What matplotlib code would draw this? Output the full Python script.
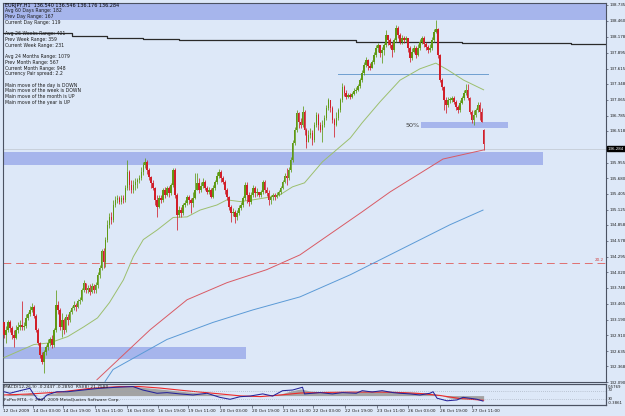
import matplotlib
matplotlib.use("Agg")
import matplotlib.pyplot as plt
import matplotlib.transforms as mtransforms
import numpy as np

W, H = 625, 416
plt.rcParams['font.family'] = ["Liberation Sans Narrow", "DejaVu Sans"]

# ---------------- data ----------------
symbol = "EURJPY,H1"
last_ohlc = [136.540, 136.546, 136.176, 136.284]   # current bar O H L C
first_open = 133.15

closes = [
    132.92, 133.01, 133.15, 133.05, 132.92, 132.87, 133.01, 133.06, 133.10, 133.06,
    133.08, 133.22, 133.29, 133.36, 133.42, 133.26, 133.01, 132.78, 132.57, 132.45,
    132.62, 132.71, 132.78, 132.84, 132.75, 133.01, 133.45, 133.36, 133.06, 133.19,
    133.01, 133.24, 133.19, 133.33, 133.40, 133.45, 133.42, 133.51, 133.54, 133.72,
    133.84, 133.72, 133.75, 133.68, 133.79, 133.72, 133.80, 133.98, 134.10, 134.40,
    134.21, 134.60, 134.86, 134.99, 134.95, 135.21, 135.30, 135.34, 135.27, 135.34,
    135.30, 135.51, 135.79, 135.57, 135.48, 135.57, 135.62, 135.65, 135.69, 135.79,
    135.92, 135.97, 135.83, 135.71, 135.60, 135.51, 135.30, 135.18, 135.34, 135.30,
    135.48, 135.39, 135.51, 135.42, 135.57, 135.83, 135.39, 135.04, 135.12, 135.07,
    135.21, 135.25, 135.35, 135.30, 135.25, 135.34, 135.48, 135.60, 135.48, 135.55,
    135.62, 135.51, 135.44, 135.48, 135.35, 135.51, 135.62, 135.72, 135.79, 135.69,
    135.62, 135.48, 135.35, 135.18, 135.07, 135.09, 134.99, 135.07, 135.16, 135.21,
    135.34, 135.57, 135.39, 135.27, 135.39, 135.51, 135.42, 135.44, 135.39, 135.44,
    135.62, 135.48, 135.42, 135.30, 135.35, 135.39, 135.35, 135.39, 135.44, 135.51,
    135.62, 135.72, 135.69, 135.83, 136.01, 136.30, 136.53, 136.83, 136.67, 136.62,
    136.85, 136.53, 136.32, 136.45, 136.48, 136.36, 136.62, 136.80, 136.62, 136.53,
    136.62, 136.74, 136.92, 137.06, 136.92, 136.71, 136.62, 136.74, 136.89, 137.06,
    137.29, 137.19, 137.12, 137.15, 137.12, 137.17, 137.22, 137.24, 137.31, 137.41,
    137.54, 137.68, 137.77, 137.66, 137.63, 137.73, 137.85, 137.98, 138.03, 137.89,
    137.94, 138.03, 138.21, 138.12, 138.03, 137.94, 138.12, 138.33, 138.21, 138.08,
    138.15, 138.12, 138.15, 137.98, 137.80, 137.91, 137.98, 137.85, 137.98, 138.08,
    138.15, 138.05, 138.00, 137.94, 137.98, 138.12, 138.26, 138.31, 137.85, 137.41,
    137.29, 137.06, 136.97, 137.06, 137.06, 137.10, 137.03, 136.94, 136.89, 137.01,
    137.10, 137.19, 137.24, 137.10, 136.85, 136.71, 136.80, 136.89, 136.97, 136.85, 136.67,
]
highs = [
    133.15, 133.08, 133.19, 133.19, 133.08, 133.01, 133.10, 133.14, 133.19, 133.51,
    133.15, 133.28, 133.33, 133.43, 133.49, 133.45, 133.28, 133.05, 132.80, 132.62,
    132.66, 132.75, 132.84, 132.89, 132.91, 133.05, 133.72, 133.51, 133.40, 133.31,
    133.22, 133.28, 133.29, 133.36, 133.43, 133.51, 133.49, 133.56, 133.59, 133.75,
    133.89, 133.84, 133.80, 133.82, 133.84, 133.82, 133.86, 134.03, 134.16, 134.44,
    134.46, 134.65, 134.95, 135.07, 135.09, 135.30, 135.37, 135.39, 135.37, 135.39,
    135.39, 135.57, 136.01, 135.83, 135.65, 135.65, 135.69, 135.69, 135.74, 135.88,
    135.97, 136.04, 136.01, 135.86, 135.72, 135.65, 135.53, 135.39, 135.39, 135.39,
    135.51, 135.53, 135.55, 135.55, 135.60, 135.86, 135.86, 135.42, 135.20, 135.18,
    135.25, 135.30, 135.39, 135.39, 135.34, 135.44, 135.77, 135.77, 135.69, 135.62,
    135.69, 135.65, 135.55, 135.53, 135.51, 135.57, 135.65, 135.79, 135.85, 135.83,
    135.72, 135.65, 135.51, 135.37, 135.21, 135.16, 135.12, 135.12, 135.21, 135.27,
    135.37, 135.62, 135.62, 135.44, 135.44, 135.57, 135.55, 135.51, 135.44, 135.48,
    135.65, 135.65, 135.53, 135.48, 135.39, 135.42, 135.42, 135.44, 135.48, 135.55,
    135.65, 135.78, 135.86, 135.88, 136.06, 136.36, 136.59, 136.89, 136.85, 136.74,
    136.96, 136.89, 136.57, 136.53, 136.57, 136.53, 136.67, 136.85, 136.83, 136.67,
    136.71, 136.80, 136.97, 137.10, 137.06, 136.96, 136.74, 136.85, 136.92, 137.10,
    137.36, 137.33, 137.24, 137.19, 137.19, 137.20, 137.27, 137.29, 137.34, 137.45,
    137.59, 137.73, 137.82, 137.78, 137.71, 137.77, 137.91, 138.03, 138.07, 138.03,
    138.00, 138.07, 138.29, 138.21, 138.15, 138.08, 138.15, 138.38, 138.37, 138.24,
    138.21, 138.19, 138.19, 138.15, 138.01, 137.98, 138.03, 138.01, 138.05, 138.14,
    138.19, 138.19, 138.08, 138.03, 138.05, 138.17, 138.31, 138.47, 138.33, 137.87,
    137.45, 137.31, 137.12, 137.12, 137.12, 137.13, 137.13, 137.06, 136.97, 137.06,
    137.13, 137.24, 137.34, 137.34, 137.12, 136.89, 136.89, 136.92, 137.03, 137.03, 136.92,
]
lows = [
    132.87, 132.78, 132.98, 132.98, 132.84, 132.71, 132.84, 132.96, 133.01, 133.01,
    133.01, 133.05, 133.19, 133.26, 133.33, 133.22, 132.98, 132.75, 132.52, 132.40,
    132.25, 132.57, 132.66, 132.73, 132.69, 132.71, 132.98, 133.29, 133.01, 132.89,
    132.94, 132.98, 133.10, 133.15, 133.29, 133.36, 133.35, 133.40, 133.47, 133.51,
    133.68, 133.66, 133.66, 133.63, 133.65, 133.65, 133.66, 133.75, 133.93, 134.07,
    134.10, 134.12, 134.56, 134.81, 134.88, 134.91, 135.18, 135.25, 135.23, 135.23,
    135.25, 135.27, 135.48, 135.48, 135.42, 135.42, 135.48, 135.51, 135.60, 135.65,
    135.74, 135.86, 135.76, 135.65, 135.51, 135.48, 135.21, 134.99, 135.16, 135.25,
    135.27, 135.34, 135.37, 135.35, 135.39, 135.53, 135.34, 134.77, 135.00, 135.00,
    135.04, 135.18, 135.21, 135.23, 135.07, 135.18, 135.32, 135.48, 135.42, 135.44,
    135.51, 135.48, 135.41, 135.41, 135.34, 135.34, 135.48, 135.58, 135.69, 135.62,
    135.58, 135.41, 135.30, 135.12, 134.91, 135.02, 134.90, 134.95, 135.04, 135.12,
    135.18, 135.30, 135.25, 135.20, 135.23, 135.35, 135.35, 135.37, 135.35, 135.35,
    135.41, 135.42, 135.37, 135.21, 135.23, 135.30, 135.30, 135.34, 135.37, 135.41,
    135.49, 135.60, 135.57, 135.65, 135.79, 135.97, 136.27, 136.50, 136.57, 136.57,
    136.59, 136.45, 136.22, 136.32, 136.39, 136.27, 136.32, 136.59, 136.53, 136.50,
    136.32, 136.59, 136.71, 136.89, 136.85, 136.66, 136.41, 136.60, 136.71, 136.85,
    137.03, 137.13, 137.08, 137.10, 137.08, 137.10, 137.15, 137.19, 137.22, 137.27,
    137.38, 137.50, 137.64, 137.59, 137.59, 137.63, 137.70, 137.82, 137.91, 137.82,
    137.71, 137.85, 138.00, 138.03, 137.98, 137.82, 137.91, 138.08, 138.15, 138.05,
    138.05, 138.07, 138.08, 137.91, 137.73, 137.77, 137.89, 137.80, 137.84, 137.94,
    138.05, 138.00, 137.94, 137.89, 137.91, 137.94, 138.08, 138.24, 137.80, 137.38,
    137.24, 136.89, 136.83, 136.94, 137.01, 137.03, 136.99, 136.89, 136.83, 136.85,
    136.99, 137.06, 137.15, 137.06, 136.82, 136.66, 136.62, 136.76, 136.85, 136.71, 136.67,
]

# moving averages (bar index, price)
ma_green_idx = [0, 15, 23, 32, 40, 47, 53, 60, 65, 70, 77, 85, 92, 98.5, 107, 112, 118.6, 125,
                132, 138.7, 145, 151, 160, 166, 174, 180, 189, 199, 209, 217, 223, 231, 241]
ma_green_val = [132.52, 132.75, 132.78, 132.89, 133.06, 133.22, 133.49, 133.89, 134.30, 134.60,
                134.77, 134.99, 135.00, 135.12, 135.21, 135.30, 135.27, 135.30, 135.34, 135.39,
                135.53, 135.60, 135.97, 136.15, 136.39, 136.66, 137.03, 137.41, 137.61, 137.71,
                137.59, 137.41, 137.24]
ma_red_idx = [46.7, 73.4, 92, 112, 132, 148.7, 180, 194, 220.6, 241]
ma_red_val = [132.13, 133.01, 133.54, 133.84, 134.07, 134.33, 135.09, 135.44, 136.02, 136.18]
ma_blue_idx = [50.8, 54.8, 81.9, 105, 125, 148.7, 174, 199, 224, 240.7]
ma_blue_val = [132.10, 132.31, 132.84, 133.14, 133.36, 133.59, 133.98, 134.42, 134.86, 135.12]
ma_black_idx = [-2, 34, 52, 70, 88, 160, 177, 230, 249, 285, 304]
ma_black_val = [138.25, 138.19, 138.16, 138.13, 138.12, 138.11, 138.09, 138.07, 138.06, 138.05, 138.05]

# drawn objects: zones (start bar, end bar, low, high)
zones = [(-1, 310, 138.47, 138.80), (-1, 270.9, 135.92, 136.15),
         (-1, 121.6, 132.50, 132.71), (209.5, 253.3, 136.57, 136.67)]
fifty_label = (202, 136.61, "50%")
level_blue = (168, 243, 137.52)
level_red = 134.19
level_red_label = "20.2"
bid_line = 136.20

price_ticks = [138.735, 138.460, 138.178, 137.895, 137.615, 137.348, 137.065, 136.785,
               136.518, 135.955, 135.680, 135.405, 135.125, 134.858, 134.578, 134.295,
               134.020, 133.748, 133.465, 133.190, 132.910, 132.635, 132.368, 132.090]

time_tick_idx = [-0.4, 14.6, 29.6, 45.7, 61.8, 77.4, 92.5, 108.5, 124.6, 140.2, 155.3,
                 171.4, 187.4, 203.0, 219.0, 235.2]
time_tick_lbl = ["12 Oct 2009", "14 Oct 03:00", "14 Oct 19:00", "15 Oct 11:00", "16 Oct 03:00",
                 "16 Oct 19:00", "19 Oct 11:00", "20 Oct 03:00", "20 Oct 19:00", "21 Oct 11:00",
                 "22 Oct 03:00", "22 Oct 19:00", "23 Oct 11:00", "26 Oct 03:00", "26 Oct 19:00",
                 "27 Oct 11:00"]

info_lines = ["Avg 60 Days Range: 182", "Prev Day Range: 167", "Current Day Range: 119", "",
              "Avg 26 Weeks Range: 401", "Prev Week Range: 359", "Current Week Range: 231", "",
              "Avg 24 Months Range: 1079", "Prev Month Range: 567", "Current Month Range: 948",
              "Currency Pair spread: 2.2", "",
              "Main move of the day is DOWN", "Main move of the week is DOWN",
              "Main move of the month is UP", "Main move of the year is UP"]

# MACD / RSI sub window
macd_idx = [0, 3, 8, 13, 18, 23, 28, 38, 48, 58, 63, 68, 78, 88, 98, 109, 119, 129, 139, 144,
            149, 154, 164, 174, 184, 194, 204, 214, 219, 224, 229, 234, 241]
macd_val = [-0.02, 0.10, 0.04, 0.16, -0.02, 0.10, 0.22, 0.41, 0.53, 0.59, 0.59, 0.53, 0.41,
            0.28, 0.16, 0.04, -0.02, -0.02, 0.10, 0.28, 0.41, 0.28, 0.22, 0.22, 0.28, 0.28,
            0.22, 0.16, 0.04, -0.15, -0.21, -0.21, -0.2447]
signal_idx = [0, 13, 28, 43, 58, 68, 78, 93, 109, 119, 129, 139, 149, 159, 174, 189, 199,
              209, 219, 229, 241]
signal_val = [0.04, 0.10, 0.22, 0.44, 0.56, 0.56, 0.47, 0.28, 0.10, -0.02, -0.06, 0.04, 0.16,
              0.19, 0.22, 0.22, 0.19, 0.13, 0.01, -0.18, -0.2850]
rsi_idx = [0, 3, 8, 13, 14.6, 17, 19, 21.6, 26.6, 31.7, 39.7, 48, 56.8, 64.8, 69.8, 76.9, 81.9,
           88.4, 95, 102, 108.5, 113.6, 118.6, 123.6, 130, 135, 140, 145, 150, 151, 158.8, 165,
           170, 177, 180, 185, 190, 195.5, 199, 204, 209, 214, 215.6, 217.6, 222.6, 227.6,
           230.7, 234, 237.7, 240.7]
rsi_val = [65, 58, 70, 81, 58, 30, 27, 50, 65, 65, 73, 81, 86, 89, 73, 58, 61, 55, 50, 58, 39,
           30, 42, 45, 55, 45, 70, 73, 86, 55, 61, 55, 61, 58, 70, 64, 70, 61, 58, 55, 50, 58,
           65, 35, 23, 27, 39, 35, 30, 21.758]

# ---------------- styling ----------------
BG = "#dde8f8"
BAND = "#a6b5ec"
BULL = "#5f9a16"
BEAR = "#d11f2a"
FRAME = "#4b5262"
TXT = "#1c1c1c"

fig = plt.figure(figsize=(W / 100, H / 100), dpi=100, facecolor=BG)


def fy(py):
    return 1 - py / H


xlim = (-0.5, 302.5)
ax = fig.add_axes([3 / W, fy(382), 603 / W, 379 / H], facecolor=BG)
ax.set_xlim(*xlim)
ax.set_ylim(132.096, 138.770)

# zones
for x0, x1, lo, hi in zones:
    ax.fill_between([x0, x1], lo, hi, color=BAND, lw=0, zorder=1)
ax.text(fifty_label[0], fifty_label[1], fifty_label[2], fontsize=4.6, color="#3c3c3c",
        va="center", ha="left", zorder=6)

# level lines
ax.axhline(bid_line, color="#c4ccd6", lw=0.6, zorder=2)
ax.axhline(level_red, color="#e07070", lw=0.7, ls=(0, (8, 5)), zorder=2)
ax.text(297, level_red + 0.01, level_red_label, color="#d04040", fontsize=3, va="bottom",
        ha="left", zorder=6)
ax.plot([level_blue[0], level_blue[1]], [level_blue[2]] * 2, color="#6f9fd0", lw=0.7, zorder=3)

# moving averages
ax.plot(ma_black_idx, ma_black_val, color="#2a2a2a", lw=0.9, drawstyle="steps-post", zorder=3)
ax.plot(ma_blue_idx, ma_blue_val, color="#5b9ad6", lw=0.7, zorder=3)
ax.plot(ma_red_idx, ma_red_val, color="#d95a64", lw=0.7, zorder=3)
ax.plot(ma_green_idx, ma_green_val, color="#9cbf6e", lw=0.7, zorder=3)

# candles
O = np.array([first_open] + closes[:-1] + [last_ohlc[0]])
C = np.array(closes + [last_ohlc[3]])
Hh = np.maximum(np.array(highs + [last_ohlc[1]]), np.maximum(O, C))
L = np.minimum(np.array(lows + [last_ohlc[2]]), np.minimum(O, C))
idx = np.arange(len(C))
up = C >= O
bot = np.minimum(O, C)
hgt = np.maximum(np.abs(C - O), 0.012)
for mask, col in ((up, BULL), (~up, BEAR)):
    ax.vlines(idx[mask], L[mask], Hh[mask], color=col, lw=0.55, zorder=4)
    ax.bar(idx[mask], hgt[mask], bottom=bot[mask], width=0.8, color=col, lw=0, zorder=5)

# axes styling
for s in ax.spines.values():
    s.set_color(FRAME)
    s.set_linewidth(0.8)
ax.yaxis.tick_right()
ax.set_yticks(price_ticks)
ax.set_yticklabels([f"{p:.3f}" for p in price_ticks])
ax.tick_params(axis="y", length=1.5, width=0.5, colors=FRAME, labelsize=2.9, pad=1,
               labelcolor=TXT)
ax.set_xticks([])

# current price box
trans = mtransforms.blended_transform_factory(ax.transAxes, ax.transData)
ax.text(1.003, bid_line, f"{last_ohlc[3]:.3f}", transform=trans, fontsize=2.9, color="white",
        va="center", ha="left", zorder=10,
        bbox=dict(boxstyle="square,pad=0.12", fc="black", ec="black"))

# info text
header = f"{symbol}  " + " ".join(f"{v:.3f}" for v in last_ohlc)
fig.text(5 / W, fy(5), header, fontsize=3.5, color="black", va="center", ha="left")
for k, line in enumerate(info_lines):
    if line:
        fig.text(5 / W, fy(5 + 5.73 * (k + 1)), line, fontsize=3.3, color=TXT, va="center",
                 ha="left")

# ---------------- MACD / RSI panel ----------------
axm = fig.add_axes([3 / W, fy(405), 603 / W, 21 / H], facecolor=BG)
axm.set_xlim(*xlim)
axm.set_ylim(-0.58, 0.716)
axm.fill_between(macd_idx, 0, macd_val, color="#a3a3a3", lw=0, zorder=2)
axm.plot(signal_idx, signal_val, color="#ee2a2a", lw=0.8, zorder=3)
axr = axm.twinx()
axr.set_ylim(3.5, 101)
axr.axhline(70, color="#9aa2b0", lw=0.5, ls=(0, (1, 2)))
axr.axhline(30, color="#9aa2b0", lw=0.5, ls=(0, (1, 2)))
axr.plot(rsi_idx, rsi_val, color="#25239a", lw=0.75, zorder=4)
axr.set_yticks([])
for a in (axm, axr):
    for s in a.spines.values():
        s.set_color(FRAME)
        s.set_linewidth(0.8)
axm.set_yticks([])
axm.set_xticks(time_tick_idx)
axm.set_xticklabels(time_tick_lbl, ha="left")
axm.tick_params(axis="x", length=2, width=0.5, colors=FRAME, labelsize=3.1, pad=1,
                labelcolor=TXT)

fig.text(4 / W, fy(386.8), "MACD(12,26,9) -0.2447 -0.2850  RSI(8) 21.7580", fontsize=3.2,
         color=TXT, va="center", ha="left")
fig.text(4 / W, fy(400.5), "FxPro MT4, \u00a9 2001-2009 MetaQuotes Software Corp.", fontsize=3.2,
         color=TXT, va="center", ha="left")
for ypx, s in ((387.2, "0.5769"), (390.4, "70"), (398.8, "30"), (402.8, "-0.3861")):
    fig.text(608 / W, fy(ypx), s, fontsize=2.8, color=TXT, va="center", ha="left")

fig.savefig("out.png", dpi=100, facecolor=BG)
